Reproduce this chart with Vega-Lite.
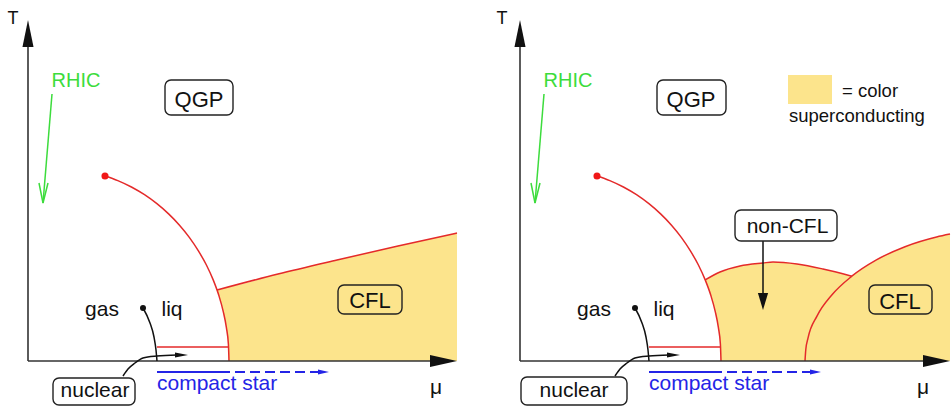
{
  "$schema": "https://vega.github.io/schema/vega-lite/v6.json",
  "padding": 0,
  "spacing": 0,
  "background": "white",
  "config": {"view": {"stroke": null}, "font": "Liberation Sans"},
  "resolve": {"scale": {"x": "independent", "y": "independent"}},
  "datasets": {
    "criticalLine": [
      {"mu": 77.1, "T": 185}, {"mu": 89.8, "T": 180.4}, {"mu": 103.4, "T": 174}, {"mu": 116.5, "T": 166.3},
      {"mu": 128.9, "T": 157.3}, {"mu": 140.6, "T": 147.1}, {"mu": 151.5, "T": 135.8}, {"mu": 161.5, "T": 123.4},
      {"mu": 170.4, "T": 110.1}, {"mu": 178.4, "T": 96}, {"mu": 185.2, "T": 81.1}, {"mu": 190.8, "T": 65.7},
      {"mu": 195.2, "T": 49.7}, {"mu": 198.4, "T": 33.3}, {"mu": 200.4, "T": 16.7}, {"mu": 201, "T": 0}
    ],
    "criticalPoint": [{"mu": 77, "T": 185}],
    "liqLine": [{"mu": 129, "T": 14}, {"mu": 200, "T": 14}],
    "gasLiqPoint": [{"mu": 115, "T": 53}],
    "gasLiqCurve": [{"mu": 115, "T": 53}, {"mu": 122, "T": 38}, {"mu": 126, "T": 24}, {"mu": 128, "T": 11}, {"mu": 129, "T": 0}],
    "tAxis": [{"mu": 0, "T": 0}, {"mu": 0, "T": 316}],
    "tHead": [{"mu": 0, "T": 327.5}],
    "muAxisA": [{"mu": 0, "T": 0}, {"mu": 404, "T": 0}],
    "muHeadA": [{"mu": 415.5, "T": 0}],
    "muAxisB": [{"mu": 0, "T": 0}, {"mu": 405, "T": 0}],
    "muHeadB": [{"mu": 416.5, "T": 0}],
    "rhicLine": [{"mu": 24, "T": 267}, {"mu": 15, "T": 158}],
    "rhicHead": [{"mu": 11, "T": 178}, {"mu": 15, "T": 158}, {"mu": 20, "T": 178}],
    "nuclearPath": [{"mu": 95, "T": -15}, {"mu": 100, "T": -8}, {"mu": 107, "T": -2}, {"mu": 115, "T": 3}, {"mu": 129, "T": 5}, {"mu": 149, "T": 6}],
    "nuclearHead": [{"mu": 153.5, "T": 6}],
    "starSolid": [{"mu": 129, "T": -11}, {"mu": 192, "T": -11}],
    "starDashed": [{"mu": 192, "T": -11}, {"mu": 291, "T": -11}],
    "starHead": [{"mu": 295.5, "T": -11}],
    "rhicLabel": [{"mu": 48, "T": 274, "label": "RHIC"}],
    "starLabel": [{"mu": 129, "T": -29, "label": "compact star"}],
    "cflFillA": [
      {"mu": 189, "T": 71, "T2": 71}, {"mu": 190.8, "T": 65.7, "T2": 71.5}, {"mu": 195.2, "T": 49.7, "T2": 72.6},
      {"mu": 198.4, "T": 33.3, "T2": 73.5}, {"mu": 200.4, "T": 16.7, "T2": 74}, {"mu": 201, "T": 0, "T2": 74.1},
      {"mu": 250, "T": 0, "T2": 87}, {"mu": 309, "T": 0, "T2": 101}, {"mu": 370, "T": 0, "T2": 115}, {"mu": 429, "T": 0, "T2": 128}
    ],
    "cflLineA": [{"mu": 189, "T": 71}, {"mu": 250, "T": 87}, {"mu": 309, "T": 101}, {"mu": 370, "T": 115}, {"mu": 429, "T": 128}],
    "boxesA": [
      {"mu": 137, "mu2": 205, "T": 281, "T2": 246},
      {"mu": 25, "mu2": 107, "T": -17, "T2": -44}
    ],
    "cflBoxA": [{"mu": 310, "mu2": 374, "T": 76, "T2": 47}],
    "bigA": [{"mu": 171, "T": 254, "label": "QGP"}, {"mu": 342, "T": 53, "label": "CFL"}],
    "labelsA": [
      {"mu": 74, "T": 45, "label": "gas"}, {"mu": 144, "T": 45, "label": "liq"},
      {"mu": 67, "T": -36, "label": "nuclear"}, {"mu": 408, "T": -33, "label": "μ"}
    ],
    "tLabelA": [{"mu": -15, "T": 337, "label": "T"}],
    "nonCflFill": [
      {"mu": 185.2, "T": 81.1, "T2": 81.1}, {"mu": 190.8, "T": 65.7, "T2": 84.6}, {"mu": 195.2, "T": 49.7, "T2": 86.7},
      {"mu": 198.4, "T": 33.3, "T2": 88.2}, {"mu": 200.4, "T": 16.7, "T2": 89.1}, {"mu": 201, "T": 0, "T2": 89.3},
      {"mu": 220, "T": 0, "T2": 95}, {"mu": 243, "T": 0, "T2": 98}, {"mu": 253, "T": 0, "T2": 99},
      {"mu": 277, "T": 0, "T2": 97}, {"mu": 303, "T": 0, "T2": 92}, {"mu": 331.8, "T": 0, "T2": 84.8}
    ],
    "cflFillB": [
      {"mu": 285, "T": 0, "T2": 0}, {"mu": 285.8, "T": 0, "T2": 11.5}, {"mu": 288, "T": 0, "T2": 22.9},
      {"mu": 297.1, "T": 0, "T2": 45.1}, {"mu": 311.8, "T": 0, "T2": 66}, {"mu": 331.8, "T": 0, "T2": 84.8},
      {"mu": 356.4, "T": 0, "T2": 101.1}, {"mu": 385, "T": 0, "T2": 114.3}, {"mu": 416.6, "T": 0, "T2": 124},
      {"mu": 430, "T": 0, "T2": 126.9}
    ],
    "nonCflLine": [
      {"mu": 185.2, "T": 81.1}, {"mu": 200, "T": 89}, {"mu": 220, "T": 95}, {"mu": 243, "T": 98},
      {"mu": 253, "T": 99}, {"mu": 277, "T": 97}, {"mu": 303, "T": 92}, {"mu": 331.8, "T": 84.8}
    ],
    "cflLineB": [
      {"mu": 285, "T": 0}, {"mu": 285.8, "T": 11.5}, {"mu": 288, "T": 22.9}, {"mu": 297.1, "T": 45.1},
      {"mu": 311.8, "T": 66}, {"mu": 331.8, "T": 84.8}, {"mu": 356.4, "T": 101.1}, {"mu": 385, "T": 114.3},
      {"mu": 416.6, "T": 124}, {"mu": 430, "T": 126.9}
    ],
    "boxesB": [
      {"mu": 137, "mu2": 206, "T": 281, "T2": 246},
      {"mu": 1, "mu2": 107, "T": -16, "T2": -44},
      {"mu": 215, "mu2": 317, "T": 151, "T2": 120}
    ],
    "cflBoxB": [{"mu": 349, "mu2": 412, "T": 76, "T2": 47}],
    "swatch": [{"mu": 268, "mu2": 312, "T": 286, "T2": 257}],
    "nonCflArrow": [{"mu": 243, "T": 120}, {"mu": 243, "T": 68}],
    "nonCflHead": [{"mu": 243, "T": 59.5}],
    "bigB": [{"mu": 171, "T": 254, "label": "QGP"}, {"mu": 380, "T": 52, "label": "CFL"}],
    "labelsB": [
      {"mu": 74, "T": 45, "label": "gas"}, {"mu": 144, "T": 45, "label": "liq"},
      {"mu": 54, "T": -36, "label": "nuclear"}, {"mu": 403, "T": -33, "label": "μ"},
      {"mu": 267.5, "T": 128, "label": "non-CFL"}
    ],
    "tLabelB": [{"mu": -18, "T": 337, "label": "T"}],
    "legendText": [{"mu": 322, "T": 264, "label": "= color"}, {"mu": 269, "T": 239, "label": "superconducting"}]
  },
  "hconcat": [
    {
      "width": 476,
      "height": 408,
      "encoding": {
        "x": {"field": "mu", "type": "quantitative", "scale": {"domain": [-28, 448], "nice": false, "zero": false}, "axis": null},
        "y": {"field": "T", "type": "quantitative", "scale": {"domain": [-47, 361], "nice": false, "zero": false}, "axis": null}
      },
      "layer": [
        {"data": {"name": "cflFillA"}, "mark": {"type": "area", "color": "#fce48c", "interpolate": "monotone"}, "encoding": {"y2": {"field": "T2"}}},
        {"data": {"name": "criticalLine"}, "mark": {"type": "line", "color": "#e42a2a", "strokeWidth": 1.5, "interpolate": "monotone"}, "encoding": {}},
        {"data": {"name": "cflLineA"}, "mark": {"type": "line", "color": "#e42a2a", "strokeWidth": 1.5, "interpolate": "monotone"}, "encoding": {}},
        {"data": {"name": "liqLine"}, "mark": {"type": "line", "color": "#e42a2a", "strokeWidth": 1.3}, "encoding": {}},
        {"data": {"name": "tAxis"}, "mark": {"type": "line", "color": "#333333", "strokeWidth": 1.6}, "encoding": {}},
        {"data": {"name": "muAxisA"}, "mark": {"type": "line", "color": "#333333", "strokeWidth": 1.6}, "encoding": {}},
        {"data": {"name": "tHead"}, "mark": {"type": "point", "shape": "M0,-1L0.41,1L-0.41,1Z", "size": 729, "filled": true, "opacity": 1, "color": "#111111", "strokeWidth": 0}},
        {"data": {"name": "muHeadA"}, "mark": {"type": "point", "shape": "M1,0L-1,-0.44L-1,0.44Z", "size": 729, "filled": true, "opacity": 1, "color": "#111111", "strokeWidth": 0}},
        {"data": {"name": "rhicLine"}, "mark": {"type": "line", "color": "#3cdc3c", "strokeWidth": 1.5}, "encoding": {}},
        {"data": {"name": "rhicHead"}, "mark": {"type": "line", "color": "#3cdc3c", "strokeWidth": 1.5}, "encoding": {}},
        {"data": {"name": "gasLiqCurve"}, "mark": {"type": "line", "color": "#111111", "strokeWidth": 1.5, "interpolate": "monotone"}, "encoding": {}},
        {"data": {"name": "nuclearPath"}, "mark": {"type": "line", "color": "#111111", "strokeWidth": 1.5, "interpolate": "monotone"}, "encoding": {}},
        {"data": {"name": "nuclearHead"}, "mark": {"type": "point", "shape": "M1,0L-1,-0.4L-1,0.4Z", "size": 169, "filled": true, "opacity": 1, "color": "#111111", "strokeWidth": 0}},
        {"data": {"name": "starSolid"}, "mark": {"type": "line", "color": "#2424e6", "strokeWidth": 1.8}, "encoding": {}},
        {"data": {"name": "starDashed"}, "mark": {"type": "line", "color": "#2424e6", "strokeWidth": 1.8, "strokeDash": [10, 5]}, "encoding": {}},
        {"data": {"name": "starHead"}, "mark": {"type": "point", "shape": "M1,0L-1,-0.45L-1,0.45Z", "size": 121, "filled": true, "opacity": 1, "color": "#2424e6", "strokeWidth": 0}},
        {"data": {"name": "boxesA"}, "mark": {"type": "rect", "fill": "white", "stroke": "#222222", "strokeWidth": 1.4, "cornerRadius": 6}, "encoding": {"x2": {"field": "mu2"}, "y2": {"field": "T2"}}},
        {"data": {"name": "cflBoxA"}, "mark": {"type": "rect", "fill": "#fce48c", "fillOpacity": 0, "stroke": "#222222", "strokeWidth": 1.4, "cornerRadius": 6}, "encoding": {"x2": {"field": "mu2"}, "y2": {"field": "T2"}}},
        {"data": {"name": "bigA"}, "mark": {"type": "text", "fontSize": 22, "align": "center", "baseline": "alphabetic", "color": "#111111"}, "encoding": {"text": {"field": "label"}}},
        {"data": {"name": "labelsA"}, "mark": {"type": "text", "fontSize": 21, "align": "center", "baseline": "alphabetic", "color": "#111111"}, "encoding": {"text": {"field": "label"}}},
        {"data": {"name": "tLabelA"}, "mark": {"type": "text", "fontSize": 18, "align": "center", "baseline": "alphabetic", "color": "#111111"}, "encoding": {"text": {"field": "label"}}},
        {"data": {"name": "rhicLabel"}, "mark": {"type": "text", "fontSize": 20, "align": "center", "baseline": "alphabetic", "color": "#3cdc3c"}, "encoding": {"text": {"field": "label"}}},
        {"data": {"name": "starLabel"}, "mark": {"type": "text", "fontSize": 21, "align": "left", "baseline": "alphabetic", "color": "#2424e6"}, "encoding": {"text": {"field": "label"}}},
        {"data": {"name": "criticalPoint"}, "mark": {"type": "circle", "size": 50, "opacity": 1, "color": "#f01818"}},
        {"data": {"name": "gasLiqPoint"}, "mark": {"type": "circle", "size": 36, "opacity": 1, "color": "#111111"}}
      ]
    },
    {
      "width": 476,
      "height": 408,
      "encoding": {
        "x": {"field": "mu", "type": "quantitative", "scale": {"domain": [-44, 432], "nice": false, "zero": false}, "axis": null},
        "y": {"field": "T", "type": "quantitative", "scale": {"domain": [-47, 361], "nice": false, "zero": false}, "axis": null}
      },
      "layer": [
        {"data": {"name": "nonCflFill"}, "mark": {"type": "area", "color": "#fce48c", "interpolate": "monotone"}, "encoding": {"y2": {"field": "T2"}}},
        {"data": {"name": "cflFillB"}, "mark": {"type": "area", "color": "#fce48c", "interpolate": "monotone"}, "encoding": {"y2": {"field": "T2"}}},
        {"data": {"name": "criticalLine"}, "mark": {"type": "line", "color": "#e42a2a", "strokeWidth": 1.5, "interpolate": "monotone"}, "encoding": {}},
        {"data": {"name": "nonCflLine"}, "mark": {"type": "line", "color": "#e42a2a", "strokeWidth": 1.5, "interpolate": "monotone"}, "encoding": {}},
        {"data": {"name": "cflLineB"}, "mark": {"type": "line", "color": "#e42a2a", "strokeWidth": 1.5, "interpolate": "monotone"}, "encoding": {}},
        {"data": {"name": "liqLine"}, "mark": {"type": "line", "color": "#e42a2a", "strokeWidth": 1.3}, "encoding": {}},
        {"data": {"name": "tAxis"}, "mark": {"type": "line", "color": "#333333", "strokeWidth": 1.6}, "encoding": {}},
        {"data": {"name": "muAxisB"}, "mark": {"type": "line", "color": "#333333", "strokeWidth": 1.6}, "encoding": {}},
        {"data": {"name": "tHead"}, "mark": {"type": "point", "shape": "M0,-1L0.41,1L-0.41,1Z", "size": 729, "filled": true, "opacity": 1, "color": "#111111", "strokeWidth": 0}},
        {"data": {"name": "muHeadB"}, "mark": {"type": "point", "shape": "M1,0L-1,-0.44L-1,0.44Z", "size": 729, "filled": true, "opacity": 1, "color": "#111111", "strokeWidth": 0}},
        {"data": {"name": "rhicLine"}, "mark": {"type": "line", "color": "#3cdc3c", "strokeWidth": 1.5}, "encoding": {}},
        {"data": {"name": "rhicHead"}, "mark": {"type": "line", "color": "#3cdc3c", "strokeWidth": 1.5}, "encoding": {}},
        {"data": {"name": "gasLiqCurve"}, "mark": {"type": "line", "color": "#111111", "strokeWidth": 1.5, "interpolate": "monotone"}, "encoding": {}},
        {"data": {"name": "nuclearPath"}, "mark": {"type": "line", "color": "#111111", "strokeWidth": 1.5, "interpolate": "monotone"}, "encoding": {}},
        {"data": {"name": "nuclearHead"}, "mark": {"type": "point", "shape": "M1,0L-1,-0.4L-1,0.4Z", "size": 169, "filled": true, "opacity": 1, "color": "#111111", "strokeWidth": 0}},
        {"data": {"name": "starSolid"}, "mark": {"type": "line", "color": "#2424e6", "strokeWidth": 1.8}, "encoding": {}},
        {"data": {"name": "starDashed"}, "mark": {"type": "line", "color": "#2424e6", "strokeWidth": 1.8, "strokeDash": [10, 5]}, "encoding": {}},
        {"data": {"name": "starHead"}, "mark": {"type": "point", "shape": "M1,0L-1,-0.45L-1,0.45Z", "size": 121, "filled": true, "opacity": 1, "color": "#2424e6", "strokeWidth": 0}},
        {"data": {"name": "nonCflArrow"}, "mark": {"type": "line", "color": "#111111", "strokeWidth": 1.5}, "encoding": {}},
        {"data": {"name": "nonCflHead"}, "mark": {"type": "point", "shape": "M0,1L-0.6,-1L0.6,-1Z", "size": 289, "filled": true, "opacity": 1, "color": "#111111", "strokeWidth": 0}},
        {"data": {"name": "boxesB"}, "mark": {"type": "rect", "fill": "white", "stroke": "#222222", "strokeWidth": 1.4, "cornerRadius": 6}, "encoding": {"x2": {"field": "mu2"}, "y2": {"field": "T2"}}},
        {"data": {"name": "cflBoxB"}, "mark": {"type": "rect", "fill": "#fce48c", "fillOpacity": 0, "stroke": "#222222", "strokeWidth": 1.4, "cornerRadius": 6}, "encoding": {"x2": {"field": "mu2"}, "y2": {"field": "T2"}}},
        {"data": {"name": "swatch"}, "mark": {"type": "rect", "fill": "#fce48c", "strokeWidth": 0}, "encoding": {"x2": {"field": "mu2"}, "y2": {"field": "T2"}}},
        {"data": {"name": "bigB"}, "mark": {"type": "text", "fontSize": 22, "align": "center", "baseline": "alphabetic", "color": "#111111"}, "encoding": {"text": {"field": "label"}}},
        {"data": {"name": "labelsB"}, "mark": {"type": "text", "fontSize": 21, "align": "center", "baseline": "alphabetic", "color": "#111111"}, "encoding": {"text": {"field": "label"}}},
        {"data": {"name": "tLabelB"}, "mark": {"type": "text", "fontSize": 18, "align": "center", "baseline": "alphabetic", "color": "#111111"}, "encoding": {"text": {"field": "label"}}},
        {"data": {"name": "rhicLabel"}, "mark": {"type": "text", "fontSize": 20, "align": "center", "baseline": "alphabetic", "color": "#3cdc3c"}, "encoding": {"text": {"field": "label"}}},
        {"data": {"name": "starLabel"}, "mark": {"type": "text", "fontSize": 21, "align": "left", "baseline": "alphabetic", "color": "#2424e6"}, "encoding": {"text": {"field": "label"}}},
        {"data": {"name": "legendText"}, "mark": {"type": "text", "fontSize": 18.5, "align": "left", "baseline": "alphabetic", "color": "#111111"}, "encoding": {"text": {"field": "label"}}},
        {"data": {"name": "criticalPoint"}, "mark": {"type": "circle", "size": 50, "opacity": 1, "color": "#f01818"}},
        {"data": {"name": "gasLiqPoint"}, "mark": {"type": "circle", "size": 36, "opacity": 1, "color": "#111111"}}
      ]
    }
  ]
}
